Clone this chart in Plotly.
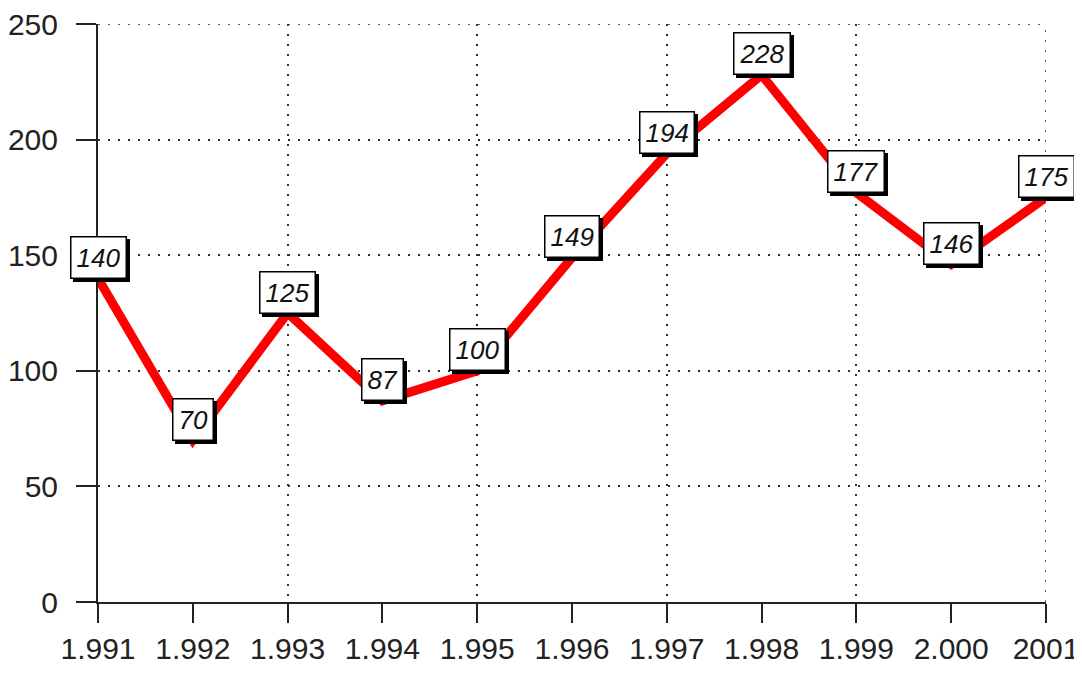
import plotly.graph_objects as go

years = [1991, 1992, 1993, 1994, 1995, 1996, 1997, 1998, 1999, 2000, 2001]
values = [140, 70, 125, 87, 100, 149, 194, 228, 177, 146, 175]
x_tick_labels = ["1.991", "1.992", "1.993", "1.994", "1.995", "1.996",
                 "1.997", "1.998", "1.999", "2.000", "2001"]
grid_years = [1993, 1995, 1997, 1999, 2001]
y_ticks = [0, 50, 100, 150, 200, 250]

FONT = "Liberation Sans, Arial, sans-serif"
X_RANGE = [years[0], years[-1]]
Y_RANGE = [0, y_ticks[-1]]
GRID = dict(color="#333333", width=1.5, dash="2px,8px")

fig = go.Figure()
fig.add_trace(go.Scatter(
    x=years, y=values, mode="lines",
    line=dict(color="#ff0000", width=9),
    cliponaxis=False, showlegend=False, hoverinfo="skip",
))
# dummy trace on overlay axis for vertical grid
fig.add_trace(go.Scatter(x=[years[0], years[-1]], y=[0, 0], xaxis="x2",
                         mode="none", showlegend=False, hoverinfo="skip"))

# edge grid lines (plotly omits gridlines on the plot border)
fig.add_shape(type="line", xref="x", yref="y", layer="below",
              x0=years[0], x1=years[-1], y0=y_ticks[-1], y1=y_ticks[-1], line=GRID)
fig.add_shape(type="line", xref="x", yref="y", layer="below",
              x0=grid_years[-1], x1=grid_years[-1], y0=y_ticks[0], y1=y_ticks[-1], line=GRID)

annotations = []
for x, v in zip(years, values):
    # shadow
    annotations.append(dict(
        x=x, y=v, xref="x", yref="y", text=str(v), showarrow=False,
        xshift=3, yshift=18,
        font=dict(family=FONT, size=26, color="black", style="italic"),
        bgcolor="black", bordercolor="black", borderwidth=1.5, borderpad=5,
    ))
for x, v in zip(years, values):
    annotations.append(dict(
        x=x, y=v, xref="x", yref="y", text=str(v), showarrow=False,
        xshift=0, yshift=21,
        font=dict(family=FONT, size=26, color="#111111", style="italic"),
        bgcolor="white", bordercolor="black", borderwidth=1.5, borderpad=5,
    ))

fig.update_layout(
    width=1082, height=673,
    margin=dict(l=90, r=44, t=16, b=79),
    paper_bgcolor="white", plot_bgcolor="white",
    font=dict(family=FONT, size=30, color="#222222"),
    annotations=annotations,
    xaxis=dict(
        range=X_RANGE,
        tickvals=years, ticktext=x_tick_labels,
        showgrid=False, zeroline=False, automargin=False,
        ticklabeloverflow="allow",
        showline=True, linecolor="#222222", linewidth=2,
        ticks="outside", ticklen=19, tickwidth=2, tickcolor="#222222",
        tickfont=dict(family=FONT, size=30, color="#222222"),
    ),
    xaxis2=dict(
        overlaying="x", matches="x", range=X_RANGE,
        tickvals=grid_years, showticklabels=False, ticks="",
        showgrid=True, gridcolor="#333333", gridwidth=1.5, automargin=False,
        griddash="2px,8px", zeroline=False, showline=False,
    ),
    yaxis=dict(
        range=Y_RANGE, tickvals=y_ticks,
        showgrid=True, gridcolor="#333333", gridwidth=1.5,
        griddash="2px,8px", zeroline=False, automargin=False,
        ticklabeloverflow="allow",
        showline=True, linecolor="#222222", linewidth=2,
        ticks="outside", ticklen=20, tickwidth=2, tickcolor="#222222",
        tickfont=dict(family=FONT, size=30, color="#222222"),
        ticklabelstandoff=12,
    ),
)

fig.write_html("out.html")
